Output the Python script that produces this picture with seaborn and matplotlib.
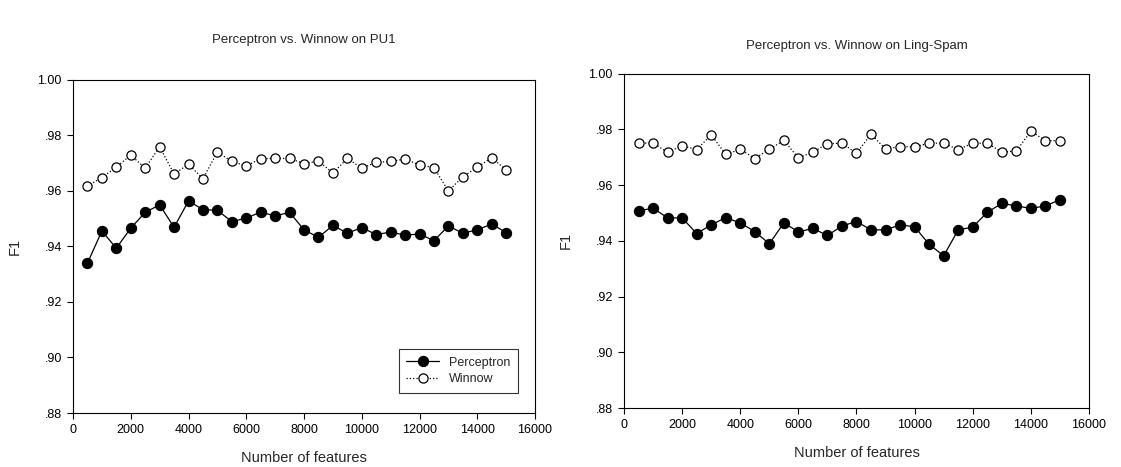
import numpy as np
import pandas as pd
import matplotlib
matplotlib.use("Agg")
import matplotlib.pyplot as plt
import seaborn as sns

features = [500, 1000, 1500, 2000, 2500, 3000, 3500, 4000, 4500, 5000,
            5500, 6000, 6500, 7000, 7500, 8000, 8500, 9000, 9500, 10000,
            10500, 11000, 11500, 12000, 12500, 13000, 13500, 14000, 14500, 15000]

pu1_perceptron = [0.9339, 0.9455, 0.9393, 0.9465, 0.9522, 0.9549, 0.9468, 0.9563, 0.9532, 0.9529,
                  0.9489, 0.9501, 0.9523, 0.9509, 0.9522, 0.9459, 0.9432, 0.9475, 0.9447, 0.9467,
                  0.9442, 0.9451, 0.9440, 0.9444, 0.9420, 0.9473, 0.9447, 0.9459, 0.9480, 0.9449]
pu1_winnow = [0.9617, 0.9647, 0.9685, 0.9728, 0.9681, 0.9758, 0.9660, 0.9695, 0.9643, 0.9739,
              0.9705, 0.9689, 0.9715, 0.9716, 0.9716, 0.9697, 0.9707, 0.9663, 0.9716, 0.9681,
              0.9702, 0.9705, 0.9714, 0.9692, 0.9683, 0.9599, 0.9650, 0.9684, 0.9719, 0.9674]

ling_perceptron = [0.9507, 0.9517, 0.9482, 0.9482, 0.9426, 0.9457, 0.9483, 0.9464, 0.9433, 0.9389,
                   0.9464, 0.9432, 0.9444, 0.9419, 0.9453, 0.9469, 0.9439, 0.9439, 0.9457, 0.9450,
                   0.9387, 0.9346, 0.9439, 0.9449, 0.9502, 0.9534, 0.9525, 0.9516, 0.9525, 0.9547]
ling_winnow = [0.9750, 0.9751, 0.9717, 0.9741, 0.9727, 0.9780, 0.9710, 0.9728, 0.9695, 0.9728,
               0.9760, 0.9697, 0.9718, 0.9748, 0.9750, 0.9714, 0.9782, 0.9729, 0.9738, 0.9737,
               0.9750, 0.9750, 0.9727, 0.9750, 0.9750, 0.9718, 0.9722, 0.9793, 0.9759, 0.9759]

titles = ["Perceptron vs. Winnow on PU1", "Perceptron vs. Winnow on Ling-Spam"]
x_ticks = [0, 2000, 4000, 6000, 8000, 10000, 12000, 14000, 16000]
y_ticks = [0.88, 0.90, 0.92, 0.94, 0.96, 0.98, 1.00]
y_tick_labels = [".88", ".90", ".92", ".94", ".96", ".98", "1.00"]

sns.set_style("ticks")
plt.rcParams['font.family'] = ['Liberation Sans', 'DejaVu Sans']

W, H = 1121, 467
fig = plt.figure(figsize=(W / 100, H / 100), dpi=100)

def px_axes(l, t, r, b):
    return fig.add_axes([l / W, (H - b) / H, (r - l) / W, (b - t) / H])

ax1 = px_axes(73, 79.5, 535, 413)
ax2 = px_axes(624, 73.5, 1089, 408)

datasets = [(pu1_perceptron, pu1_winnow), (ling_perceptron, ling_winnow)]
title_y = [40, 46]

for i, (ax, (perc, winn)) in enumerate(zip([ax1, ax2], datasets)):
    df = pd.DataFrame({"features": features, "Perceptron": perc, "Winnow": winn})
    sns.lineplot(data=df, x="features", y="Perceptron", ax=ax, color="black",
                 linewidth=0.9, marker="o", markersize=7.4, markerfacecolor="black",
                 markeredgecolor="black", label="Perceptron", legend=False)
    sns.lineplot(data=df, x="features", y="Winnow", ax=ax, color="black",
                 linewidth=0.9, linestyle=":", marker="o", markersize=6.6,
                 markerfacecolor="white", markeredgecolor="black", markeredgewidth=0.9,
                 label="Winnow", legend=False)
    ax.set_xlim(0, 16000)
    ax.set_ylim(0.88, 1.00)
    ax.set_xticks(x_ticks)
    ax.set_xticklabels([str(t) for t in x_ticks])
    ax.set_yticks(y_ticks)
    ax.set_yticklabels(y_tick_labels)
    ax.tick_params(axis="both", direction="out", length=4, width=0.8, labelsize=9,
                   colors="black", pad=4)
    for s in ax.spines.values():
        s.set_visible(True)
        s.set_color("black")
        s.set_linewidth(0.8)
    ax.set_xlabel("Number of features", fontsize=10.5, labelpad=11)
    ax.set_ylabel("F1", fontsize=10.5, labelpad=11)
    ax.grid(False)
    bbox = ax.get_position()
    fig.text((bbox.x0 + bbox.x1) / 2, 1 - title_y[i] / H, titles[i],
             ha="center", va="center", fontsize=9.5)

leg = ax1.legend(loc="lower right", frameon=True, fancybox=False, fontsize=9,
                 handlelength=2.6, borderpad=0.6, labelspacing=0.35,
                 bbox_to_anchor=(0.976, 0.042))
leg.get_frame().set_edgecolor("black")
leg.get_frame().set_linewidth(0.8)

fig.savefig("out.png", dpi=100)
